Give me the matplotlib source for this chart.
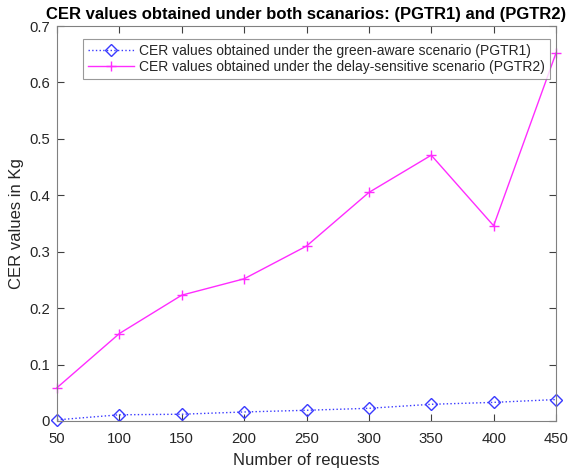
import matplotlib
matplotlib.use("Agg")
import matplotlib.pyplot as plt

requests = [50, 100, 150, 200, 250, 300, 350, 400, 450]
pgtr1 = [0.002, 0.011, 0.012, 0.016, 0.019, 0.0225, 0.0296, 0.033, 0.038]
pgtr2 = [0.059, 0.155, 0.223, 0.252, 0.310, 0.405, 0.471, 0.346, 0.652]
xticks = [50, 100, 150, 200, 250, 300, 350, 400, 450]
yticks = [0, 0.1, 0.2, 0.3, 0.4, 0.5, 0.6, 0.7]
ytick_labels = ["0", "0.1", "0.2", "0.3", "0.4", "0.5", "0.6", "0.7"]

plt.rcParams['font.family'] = ['Liberation Sans', 'DejaVu Sans']
txtcol = '#262626'

fig = plt.figure(figsize=(5.69, 4.72), dpi=100)
L, R, T, B = 57, 556, 26, 421
ax = fig.add_axes([L/569, (472-B)/472, (R-L)/569, (B-T)/472])

ax.plot(requests, pgtr1, linestyle=':', color='#3a3aff', linewidth=1.0,
        marker='D', markersize=6.3, markerfacecolor='none', markeredgecolor='#3a3aff',
        markeredgewidth=1.0, clip_on=False,
        label='CER values obtained under the green-aware scenario (PGTR1)')
ax.plot(requests, pgtr2, linestyle='-', color='#ff2cff', linewidth=1.0,
        marker='+', markersize=7.5, markeredgewidth=1.0, clip_on=False,
        label='CER values obtained under the delay-sensitive scenario (PGTR2)')

ax.set_xlim(50, 450)
ax.set_ylim(0, 0.7)
ax.set_xticks(xticks)
ax.set_xticklabels([str(v) for v in xticks])
ax.set_yticks(yticks)
ax.set_yticklabels(ytick_labels)
ax.tick_params(direction='in', top=True, right=True, length=5, width=0.8,
               colors='#404040', labelsize=10.7, labelcolor=txtcol)
ax.tick_params(axis='x', pad=8)
ax.tick_params(axis='y', pad=5)
for s in ax.spines.values():
    s.set_color('#808080')
    s.set_linewidth(0.8)

ax.set_xlabel('Number of requests', fontsize=12, color=txtcol, labelpad=5)
ax.set_ylabel('CER values in Kg', fontsize=12, color=txtcol, labelpad=4)
ax.set_title('CER values obtained under both scanarios: (PGTR1) and (PGTR2)',
             fontsize=12, fontweight='bold', color='black', pad=5)

W, H = R - L, B - T
leg = ax.legend(loc='upper left', bbox_to_anchor=(26.3/W, 1 - 13/H), fontsize=10,
                frameon=True, fancybox=False, edgecolor='#808080', handlelength=3.3,
                borderpad=0.35, labelspacing=0.15, handletextpad=0.35, borderaxespad=0)
leg.get_frame().set_linewidth(0.8)
for t in leg.get_texts():
    t.set_color(txtcol)

fig.savefig('out.png', dpi=100, facecolor='white')
